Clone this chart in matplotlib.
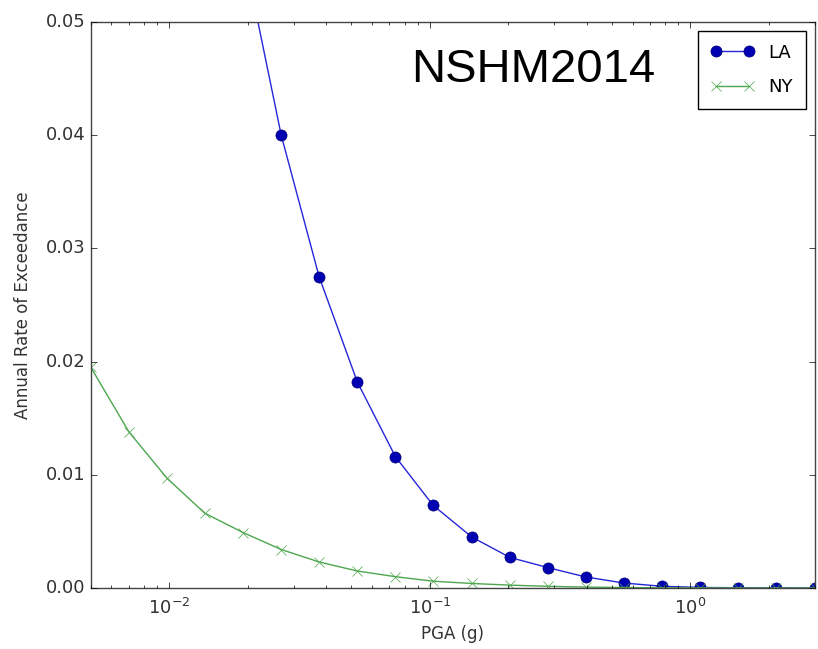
import matplotlib
matplotlib.use("Agg")
import matplotlib.pyplot as plt

# PGA levels (g) and annual rates of exceedance
pga_la = [0.0192, 0.0269, 0.0376, 0.0527, 0.0738, 0.103, 0.145, 0.203,
          0.284, 0.397, 0.556, 0.778, 1.09, 1.52, 2.13, 3.0]
rate_la = [0.0564, 0.0400, 0.0275, 0.0182, 0.0116, 0.0073, 0.0045, 0.0027,
           0.0018, 0.00097, 0.00044, 0.00015, 0.00005, 0.00002, 0.00001, 0.000005]

pga_ny = [0.005, 0.007, 0.0098, 0.0137, 0.0192, 0.0269, 0.0376, 0.0527,
          0.0738, 0.103, 0.145, 0.203, 0.284, 0.397, 0.556, 0.778, 1.09,
          1.52, 2.13, 3.0]
rate_ny = [0.0195, 0.0138, 0.0097, 0.0066, 0.0049, 0.0034, 0.0023, 0.0015,
           0.0010, 0.0006, 0.0004, 0.00025, 0.00015, 0.00008, 0.00004,
           0.00002, 0.00001, 0.000005, 0.000002, 0.000001]

plt.style.use('classic')
fig = plt.figure(figsize=(8.18, 6.49), dpi=100, facecolor='white')
ax = fig.add_axes([0.111, 0.094, 0.885, 0.872])

ax.plot(pga_la, rate_la, 'o-', color=(0.15, 0.15, 0.85), mfc=(0.0, 0.0, 0.7),
        mec=(0.0, 0.0, 0.45), ms=8, label='LA')
ax.plot(pga_ny, rate_ny, 'x-', color=(0.3, 0.65, 0.3), ms=7, label='NY')

ax.set_xscale('log')
ax.set_xlim(0.005, 3.0)
ax.set_ylim(0, 0.05)
ax.set_yticks([0.0, 0.01, 0.02, 0.03, 0.04, 0.05])
ax.set_xlabel('PGA (g)', fontsize=12, labelpad=5, color='#333333')
ax.set_ylabel('Annual Rate of Exceedance', fontsize=12, labelpad=10, color='#333333')
ax.tick_params(labelsize=13, labelcolor='#333333')
ax.tick_params(axis='x', pad=7)
for s in ax.spines.values():
    s.set_color('#444444')

ax.text(0.443, 0.955, 'NSHM2014', transform=ax.transAxes, fontsize=34,
        family='Liberation Sans', va='top', ha='left')
ax.legend(loc='upper right', fontsize=13, numpoints=2, labelspacing=0.9,
          borderpad=0.7, handlelength=2.4, borderaxespad=0.5)

fig.savefig('out.png', dpi=100, facecolor='white')
